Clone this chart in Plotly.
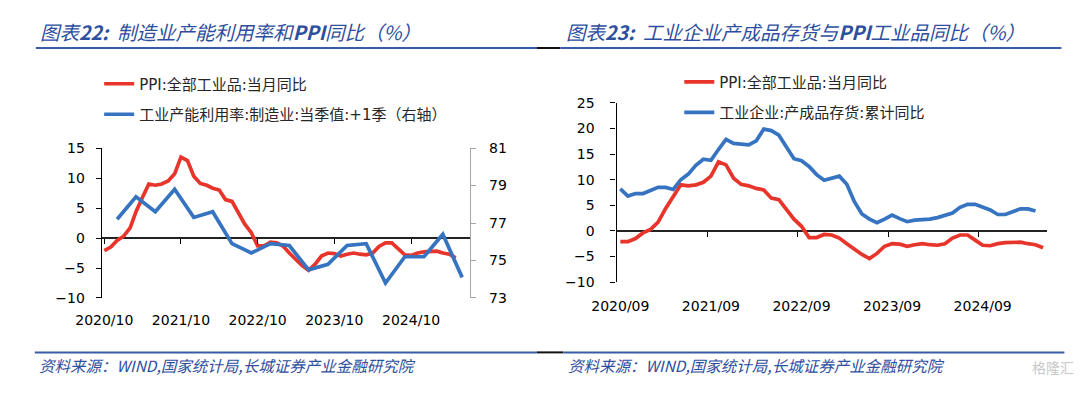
import plotly.graph_objects as go
import pandas as pd

W, H = 1080, 393


def px(x):
    return x / W


def py(y):
    return 1 - y / H


# ---------------- data ----------------
# monthly categories 2020/09 .. 2025/05
months = [d.strftime("%Y/%m") for d in pd.date_range("2020-09-01", "2025-05-01", freq="MS")]
month_dates = [d.strftime("%Y-%m-%d") for d in pd.date_range("2020-09-01", "2025-05-01", freq="MS")]

# PPI: all industrial products, yoy (%), 2020/09 .. 2025/05
ppi_yoy = [-2.1,
           -2.1, -1.5, -0.4,
           0.3, 1.7, 4.4, 6.8, 9.0, 8.8, 9.0, 9.5, 10.7, 13.5, 12.9, 10.3,
           9.1, 8.8, 8.3, 8.0, 6.4, 6.1, 4.2, 2.3, 0.9, -1.3, -1.3, -0.7,
           -0.8, -1.4, -2.5, -3.6, -4.6, -5.4, -4.4, -3.0, -2.5, -2.6, -3.0, -2.7,
           -2.5, -2.7, -2.8, -2.5, -1.4, -0.8, -0.8, -1.8, -2.8, -2.9, -2.5, -2.3,
           -2.3, -2.2, -2.5, -2.7, -3.3]

# Manufacturing capacity utilisation, quarterly, shifted +1 quarter (right axis)
cap_dates = ["2020-12-01", "2021-03-01", "2021-06-01", "2021-09-01", "2021-12-01",
             "2022-03-01", "2022-06-01", "2022-09-01", "2022-12-01", "2023-03-01",
             "2023-06-01", "2023-09-01", "2023-12-01", "2024-03-01", "2024-06-01",
             "2024-09-01", "2024-12-01", "2025-03-01", "2025-06-01"]
cap_util = [77.2, 78.4, 77.6, 78.8, 77.3, 77.6, 75.9, 75.4, 75.9, 75.8,
            74.5, 74.8, 75.8, 75.9, 73.8, 75.2, 75.2, 76.4, 74.1]

# Industrial enterprises finished-goods inventory, cumulative yoy (%), 2020/09 .. 2025/04
inventory_yoy = [8.2, 6.8, 7.3, 7.3,
                 None, 8.5, 8.5, 8.1, 10.0, 11.1, 12.8, 14.0, 13.8, 15.9, 17.9, 17.1,
                 None, 16.8, 17.6, 19.9, 19.6, 18.7, 16.4, 14.1, 13.7, 12.6, 11.0, 9.9,
                 None, 10.7, 9.1, 5.7, 3.3, 2.3, 1.6, 2.3, 3.1, 2.4, 1.8, 2.1,
                 None, 2.3, 2.6, 3.0, 3.5, 4.6, 5.2, 5.2, 4.7, 4.1, 3.2, 3.2,
                 None, 4.3, 4.3, 3.9]

left_ticks = ["2020-10-01", "2021-10-01", "2022-10-01", "2023-10-01", "2024-10-01"]
right_ticks = ["2020/09", "2021/09", "2022/09", "2023/09", "2024/09"]

name_ppi = "PPI:全部工业品:当月同比"
name_cap = "工业产能利用率:制造业:当季值:+1季（右轴）"
name_inv = "工业企业:产成品存货:累计同比"

title_left = "图表<b>22:</b>  制造业产能利用率和<b>PPI</b>同比（%）"
title_right = "图表<b>23:</b>  工业企业产成品存货与<b>PPI</b>工业品同比（%）"
source_text = "资料来源：WIND,国家统计局,长城证券产业金融研究院"

# ---------------- styles ----------------
RED = "#E8352B"
BLUE = "#3674C1"
TITLE_BLUE = "#2E4E9E"
RULE_BLUE = "#3A5CA8"
LW = 3.7
TICK_FONT = dict(family="DejaVu Sans, Noto Sans CJK SC", size=14, color="#000000")
LEG_FONT = dict(family="DejaVu Sans, Noto Sans CJK SC", size=15, color="#262626")

# geometry (pixels)
L_X0, L_X1, L_Y0, L_Y1 = 76.7, 454.5, 146.0, 302.3
R_X0, R_X1, R_Y0, R_Y1 = 604.7, 1046.0, 99.0, 285.7

l_zero = py(L_Y1) + (10 / 25) * (py(L_Y0) - py(L_Y1))
r_zero = py(R_Y1) + (10 / 35) * (py(R_Y0) - py(R_Y1))

fig = go.Figure()

# ---- left chart ----
fig.add_trace(go.Scatter(x=month_dates[1:], y=ppi_yoy[1:], name=name_ppi, mode="lines",
                         line=dict(color=RED, width=LW), xaxis="x", yaxis="y",
                         legend="legend", legendgroup="a"))
fig.add_trace(go.Scatter(x=cap_dates, y=cap_util, name=name_cap, mode="lines",
                         line=dict(color=BLUE, width=LW), xaxis="x", yaxis="y2",
                         legend="legend", legendgroup="b"))
fig.add_trace(go.Scatter(x=[], y=[], xaxis="x2", yaxis="y", showlegend=False, hoverinfo="skip"))

# ---- right chart ----
fig.add_trace(go.Scatter(x=months, y=ppi_yoy, name=name_ppi, mode="lines",
                         line=dict(color=RED, width=LW), xaxis="x3", yaxis="y3",
                         legend="legend2", legendgroup="c"))
fig.add_trace(go.Scatter(x=months[:len(inventory_yoy)], y=inventory_yoy, name=name_inv, mode="lines",
                         connectgaps=True,
                         line=dict(color=BLUE, width=LW), xaxis="x3", yaxis="y3",
                         legend="legend2", legendgroup="d"))
fig.add_trace(go.Scatter(x=[], y=[], xaxis="x4", yaxis="y3", showlegend=False, hoverinfo="skip"))

left_range = ["2020-09-19", "2025-07-09"]

fig.update_layout(
    width=W, height=H,
    margin=dict(l=0, r=0, t=0, b=0),
    paper_bgcolor="white", plot_bgcolor="rgba(0,0,0,0)",
    showlegend=True,
    xaxis=dict(domain=[px(L_X0), px(L_X1)], anchor="y", type="date", range=left_range,
               tickvals=left_ticks, tickformat="%Y/%m", ticks="", showline=False,
               showgrid=False, zeroline=False, tickfont=TICK_FONT, ticklabelstandoff=12),
    xaxis2=dict(overlaying="x", anchor="free", position=l_zero, type="date", range=left_range,
                tickvals=left_ticks, ticks="outside", ticklen=5, tickwidth=1.3, tickcolor="#000",
                showticklabels=False, showline=False, showgrid=False, zeroline=False),
    yaxis=dict(domain=[py(L_Y1), py(L_Y0)], anchor="x", range=[-10, 15], dtick=5,
               ticks="outside", ticklen=5, tickwidth=1.3, tickcolor="#000",
               showline=True, linecolor="#000", linewidth=1.3, showgrid=False,
               zeroline=True, zerolinecolor="#222", zerolinewidth=1.6,
               tickfont=TICK_FONT, ticklabelstandoff=8),
    yaxis2=dict(overlaying="y", side="right", anchor="x", range=[73, 81], tick0=73, dtick=2,
                ticks="outside", ticklen=5, tickwidth=1.2, tickcolor="#A6A6A6",
                showline=True, linecolor="#A6A6A6", linewidth=1.2, showgrid=False,
                zeroline=False, tickfont=TICK_FONT, ticklabelstandoff=10),
    xaxis3=dict(domain=[px(R_X0), px(R_X1)], anchor="y3", type="category",
                categoryorder="array", categoryarray=months, range=[-0.5, len(months) - 0.5],
                tickvals=right_ticks, ticks="", showline=False, showgrid=False, zeroline=False,
                tickfont=TICK_FONT, ticklabelstandoff=14),
    xaxis4=dict(overlaying="x3", anchor="free", position=r_zero, type="linear",
                range=[-0.5, len(months) - 0.5], tick0=-0.5, dtick=12,
                ticks="outside", ticklen=5, tickwidth=1.3, tickcolor="#000",
                showticklabels=False, showline=False, showgrid=False, zeroline=False),
    yaxis3=dict(domain=[py(R_Y1), py(R_Y0)], anchor="x3", range=[-10, 25], dtick=5,
                ticks="outside", ticklen=5, tickwidth=1.3, tickcolor="#000",
                showline=True, linecolor="#000", linewidth=1.3, showgrid=False,
                zeroline=True, zerolinecolor="#222", zerolinewidth=1.6,
                tickfont=TICK_FONT, ticklabelstandoff=13),
    legend=dict(x=px(74), y=py(62), xanchor="left", yanchor="top", font=LEG_FONT,
                bgcolor="rgba(0,0,0,0)", traceorder="grouped", tracegroupgap=8,
                borderwidth=0),
    legend2=dict(x=px(669), y=py(60), xanchor="left", yanchor="top", font=LEG_FONT,
                 bgcolor="rgba(0,0,0,0)", traceorder="grouped", tracegroupgap=8,
                 borderwidth=0),
)

# titles, sources
TITLE_FONT = dict(family="Noto Sans CJK SC", size=19.5, color=TITLE_BLUE, style="italic")
SRC_FONT = dict(family="Noto Sans CJK SC", size=15.5, color=TITLE_BLUE, style="italic")
fig.add_annotation(text=title_left, x=px(11), y=py(24), xref="paper", yref="paper",
                   xanchor="left", yanchor="middle", showarrow=False, font=TITLE_FONT)
fig.add_annotation(text=title_right, x=px(551), y=py(24), xref="paper", yref="paper",
                   xanchor="left", yanchor="middle", showarrow=False, font=TITLE_FONT)
fig.add_annotation(text=source_text, x=px(10), y=py(372), xref="paper", yref="paper",
                   xanchor="left", yanchor="middle", showarrow=False, font=SRC_FONT)
fig.add_annotation(text=source_text, x=px(553), y=py(372), xref="paper", yref="paper",
                   xanchor="left", yanchor="middle", showarrow=False, font=SRC_FONT)
fig.add_annotation(text="格隆汇", x=px(1076), y=py(374), xref="paper", yref="paper",
                   xanchor="right", yanchor="middle", showarrow=False,
                   font=dict(family="Noto Sans CJK SC", size=14, color="#C8C8C8"))

# decorative rules
for (x0, x1, y, c) in [(9, 523, 41.7, RULE_BLUE), (523, 547, 41.7, "#111111"), (547, 1061, 41.7, RULE_BLUE),
                       (8, 523, 359, RULE_BLUE), (523, 550, 359, "#111111"), (550, 1064, 359, RULE_BLUE)]:
    fig.add_shape(type="line", xref="paper", yref="paper", x0=px(x0), x1=px(x1), y0=py(y), y1=py(y),
                  line=dict(color=c, width=2))

fig.write_html("out.html",
               config={"displayModeBar": False},
               post_script="document.body.style.margin='0';"
                           "document.documentElement.style.overflow='hidden';")
